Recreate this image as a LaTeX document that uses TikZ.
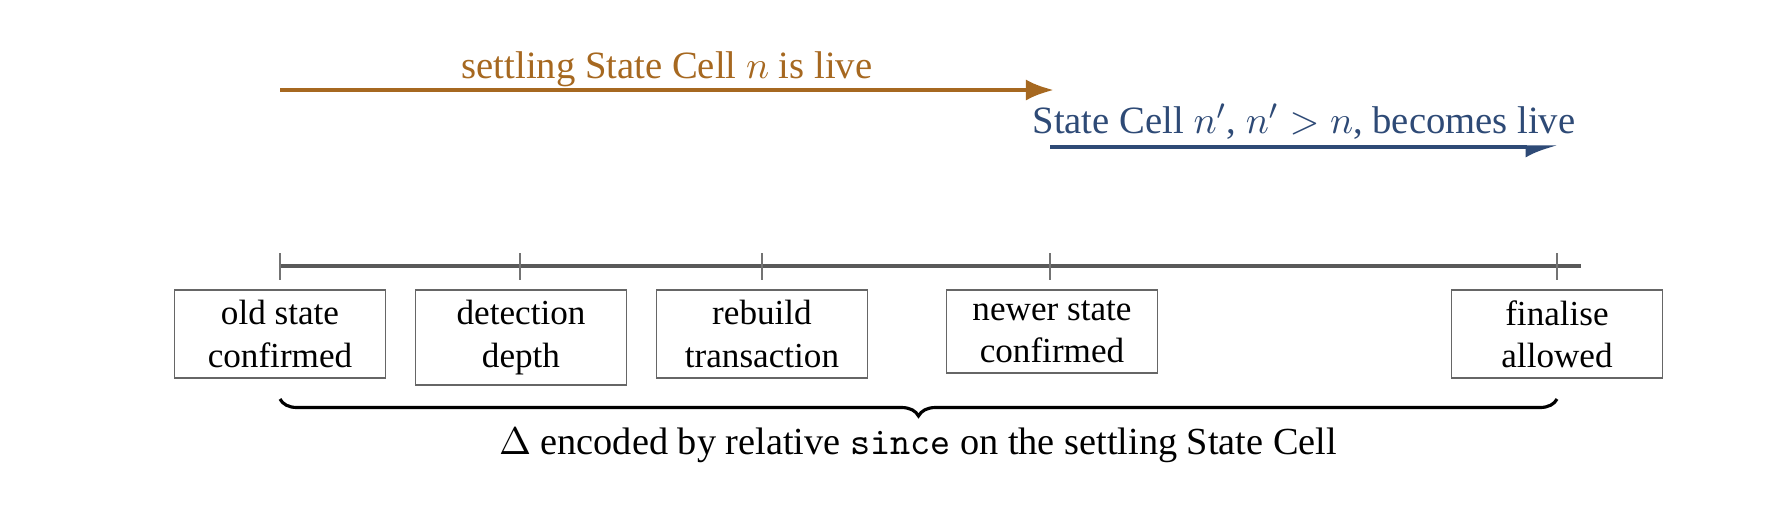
\documentclass[tikz,border=0pt]{standalone}
\usepackage{fontspec}
\setmainfont{Liberation Serif}
\usetikzlibrary{arrows.meta,decorations.pathreplacing}
\definecolor{settleorange}{RGB}{166,104,32}
\definecolor{liveblue}{RGB}{46,74,118}
\tikzset{
  stepbox/.style={draw=black!60, line width=0.5pt, minimum width=2.11cm, inner sep=3pt, align=center, anchor=north},
  livelabel/.style={font=\fontsize{11}{13}\selectfont}
}
\begin{document}
\begin{tikzpicture}
    \useasboundingbox (0,0) rectangle (17.86,-5.30);
    % timeline with ticks
    \draw[line width=0.9pt, black!65] (2.80,-2.66) -- (15.81,-2.66);
    \foreach \x/\n in {2.80/t0, 5.20/t1, 7.62/t2, 10.50/t3, 15.57/t4} {
      \coordinate (\n) at (\x,-2.66);
      \draw[black!55, line width=0.5pt] (\x,-2.53) -- (\x,-2.80);
    }
    \node[stepbox] (old) at (2.80,-2.89) {old state\\confirmed};
    \node[stepbox] (detect) at (5.21,-2.89) {detection\\depth};
    \node[stepbox] (rebuild) at (7.62,-2.89) {rebuild\\transaction};
    \node[stepbox] (newer) at (10.52,-2.89) {newer state\\confirmed};
    \node[stepbox] (final) at (15.57,-2.89) {finalise\\allowed};
    % live periods
    \coordinate (settlestart) at (2.80,-0.90);
    \coordinate (settleend) at (10.54,-0.90);
    \coordinate (newstart) at (10.50,-1.47);
    \coordinate (newend) at (15.58,-1.47);
    \draw[settleorange, line width=1.2pt, -{Latex[length=8pt,width=6pt]}] (settlestart) -- node[livelabel, above=-3pt] (settlelabel) {settling State Cell $n$ is live} (settleend);
    \draw[liveblue, line width=0.9pt, -{Latex[length=7.5pt,width=6pt,right]}] (newstart) -- node[livelabel, above=-1.5pt] (newlabel) {State Cell $n'$, $n' > n$, becomes live} (newend);
    % delta brace
    \draw[decorate, decoration={brace, mirror, amplitude=0.17cm}, line width=0.9pt] (2.80,-3.99) -- (15.57,-3.99);
    \node[font=\fontsize{10.9}{13}\selectfont] (delta) at (9.18,-4.45) {$\Delta$ encoded by relative \texttt{since} on the settling State Cell};
\end{tikzpicture}
\end{document}
